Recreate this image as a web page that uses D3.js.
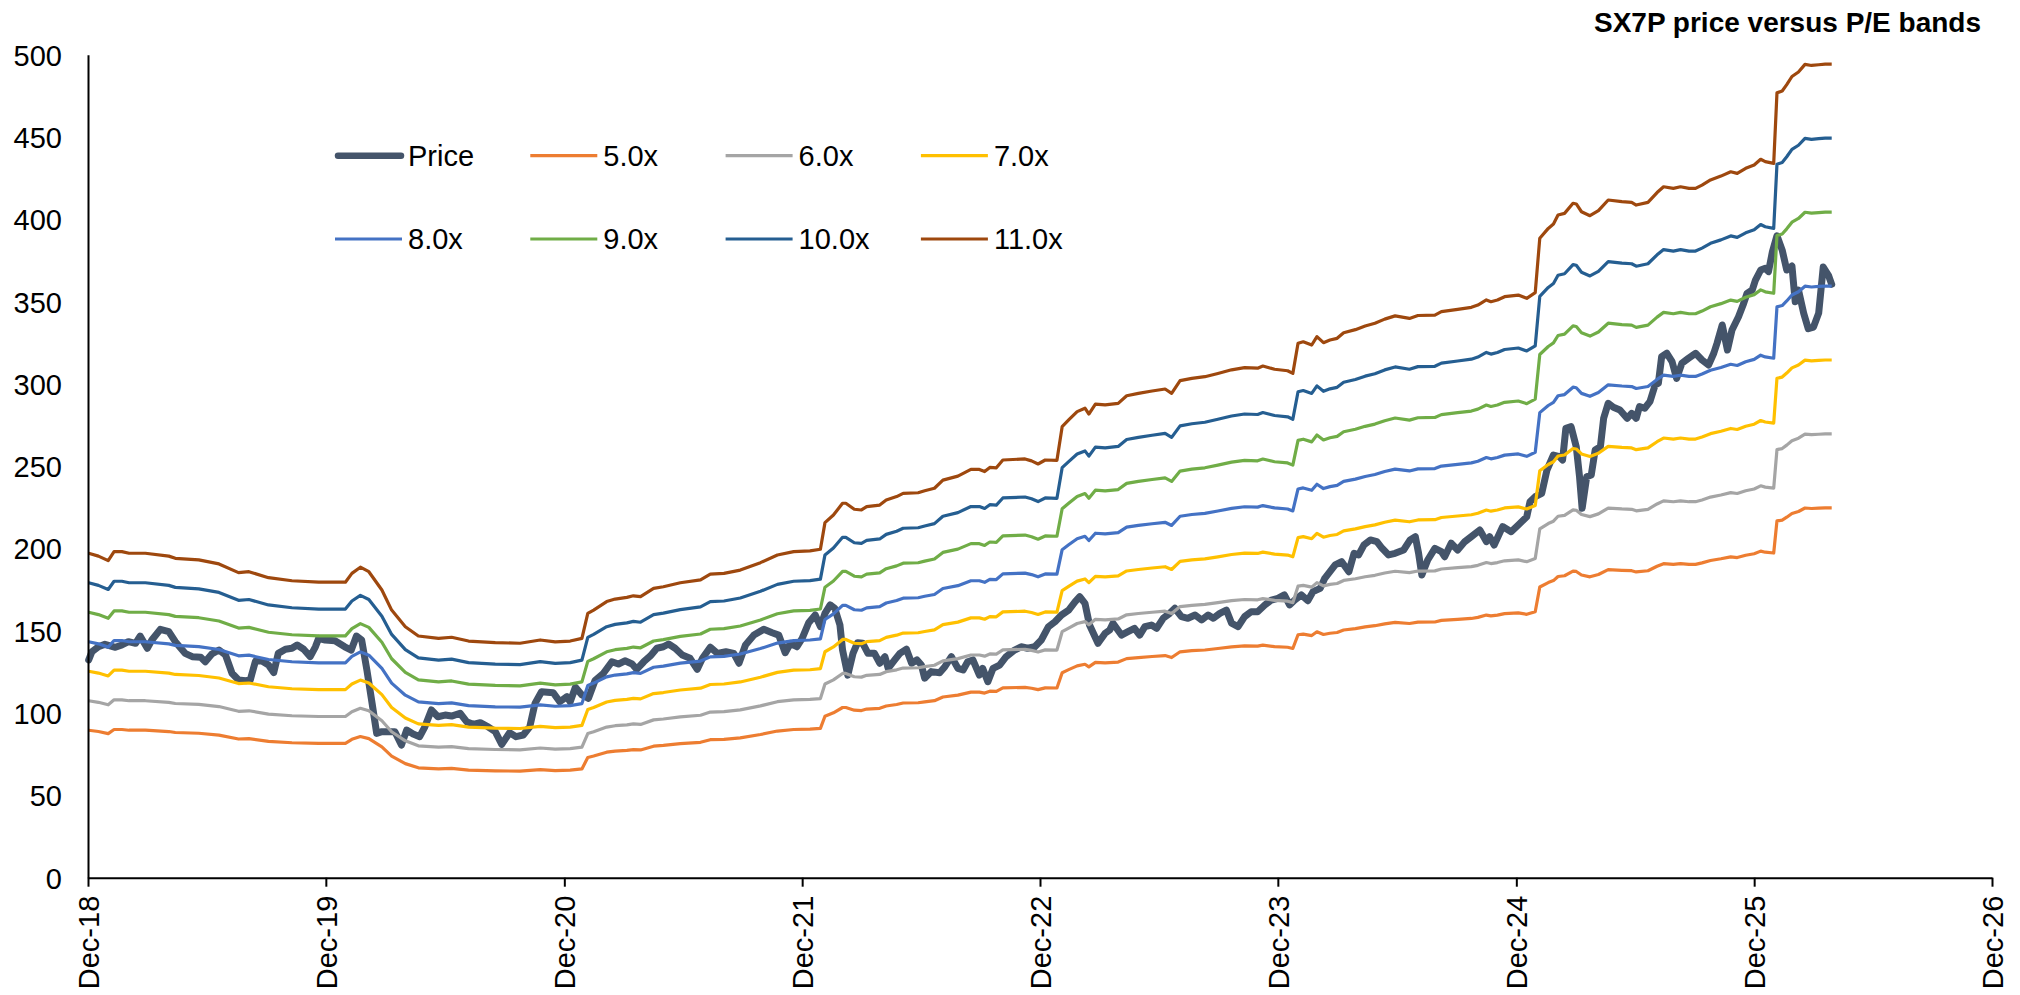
<!DOCTYPE html>
<html>
<head>
<meta charset="utf-8">
<script src="https://d3js.org/d3.v7.min.js"></script>
<style>
  body { margin: 0; background: #fff; }
  svg { display: block; font-family: Arial, "Liberation Sans", sans-serif; }
</style>
</head>
<body>
<svg id="chart" width="2020" height="995"></svg>
<script>
// ---- data ----
const title = "SX7P price versus P/E bands";
const seriesNames = ["Price", "5.0x", "6.0x", "7.0x", "8.0x", "9.0x", "10.0x", "11.0x"];
const multiples = [5, 6, 7, 8, 9, 10, 11];
const yTicks = [0, 50, 100, 150, 200, 250, 300, 350, 400, 450, 500];
const xTicks = ["2018-12-31", "2019-12-31", "2020-12-31", "2021-12-31", "2022-12-31",
                "2023-12-31", "2024-12-31", "2025-12-31", "2026-12-31"];

// weekly-ish closes of SX7P
const priceData = [
  ["2019-01-01",132.3],["2019-01-06",137.3],["2019-01-16",140.3],["2019-01-26",141.8],["2019-02-11",140.0],
  ["2019-02-21",141.4],["2019-03-03",143.4],["2019-03-14",142.4],["2019-03-21",146.8],["2019-04-01",139.4],
  ["2019-04-08",144.4],["2019-04-21",150.9],["2019-05-04",149.5],["2019-05-14",143.4],["2019-05-29",136.3],
  ["2019-06-09",134.3],["2019-06-22",133.9],["2019-06-29",131.2],["2019-07-09",135.9],["2019-07-20",138.3],
  ["2019-07-30",135.3],["2019-08-09",124.2],["2019-08-19",120.1],["2019-08-30",119.7],["2019-09-06",120.1],
  ["2019-09-14",131.6],["2019-09-24",131.6],["2019-10-04",129.2],["2019-10-12",124.6],["2019-10-19",136.3],
  ["2019-10-30",138.8],["2019-11-09",139.4],["2019-11-17",141.4],["2019-11-27",138.8],["2019-12-07",134.3],
  ["2019-12-15",140.3],["2019-12-20",145.4],["2019-12-30",144.4],["2020-01-14",144.0],["2020-01-29",140.3],
  ["2020-02-08",138.3],["2020-02-16",146.8],["2020-02-24",144.4],["2020-03-03",126.2],["2020-03-11",105.9],
  ["2020-03-18",87.7],["2020-03-26",88.7],["2020-04-05",88.7],["2020-04-15",88.7],["2020-04-25",80.6],
  ["2020-05-03",89.7],["2020-05-13",87.3],["2020-05-23",85.7],["2020-05-31",91.7],["2020-06-10",101.9],
  ["2020-06-20",97.8],["2020-07-01",98.8],["2020-07-11",98.2],["2020-07-24",99.9],["2020-08-03",94.8],
  ["2020-08-13",93.2],["2020-08-24",94.2],["2020-09-05",91.7],["2020-09-16",88.7],["2020-09-26",81.0],
  ["2020-10-08",88.1],["2020-10-18",85.7],["2020-10-29",86.7],["2020-11-08",91.7],["2020-11-16",105.9],
  ["2020-11-26",113.0],["2020-12-14",112.4],["2020-12-24",106.9],["2021-01-04",110.0],["2021-01-09",106.9],
  ["2021-01-17",115.7],["2021-01-27",111.0],["2021-02-06",109.0],["2021-02-16",119.7],["2021-03-01",124.2],
  ["2021-03-14",131.2],["2021-03-24",129.8],["2021-04-03",131.8],["2021-04-14",129.8],["2021-04-21",126.6],
  ["2021-05-02",131.2],["2021-05-12",134.7],["2021-05-22",139.4],["2021-06-01",140.3],["2021-06-09",142.0],
  ["2021-06-19",139.4],["2021-06-30",135.3],["2021-07-12",133.3],["2021-07-23",126.6],["2021-07-31",133.3],
  ["2021-08-12",140.0],["2021-08-23",136.3],["2021-09-05",137.3],["2021-09-17",136.3],["2021-09-25",130.3],
  ["2021-10-05",141.4],["2021-10-18",147.4],["2021-11-02",150.9],["2021-11-15",148.8],["2021-11-25",147.4],
  ["2021-12-05",136.7],["2021-12-13",142.4],["2021-12-23",140.3],["2021-12-31",145.4],["2022-01-10",154.9],
  ["2022-01-20",159.6],["2022-01-28",152.5],["2022-02-04",160.6],["2022-02-12",165.7],["2022-02-19",163.7],
  ["2022-02-27",153.5],["2022-03-03",138.3],["2022-03-11",123.1],["2022-03-19",136.3],["2022-03-26",142.8],
  ["2022-04-03",142.4],["2022-04-11",136.3],["2022-04-21",136.3],["2022-04-29",130.3],["2022-05-07",134.3],
  ["2022-05-12",127.2],["2022-05-22",132.3],["2022-05-30",136.3],["2022-06-09",138.8],["2022-06-17",130.3],
  ["2022-06-25",132.3],["2022-07-02",129.2],["2022-07-07",121.2],["2022-07-17",125.2],["2022-07-30",124.5],
  ["2022-08-07",128.2],["2022-08-17",134.3],["2022-08-27",127.2],["2022-09-04",126.2],["2022-09-11",131.2],
  ["2022-09-19",132.3],["2022-09-29",123.1],["2022-10-04",127.2],["2022-10-12",119.1],["2022-10-20",127.2],
  ["2022-10-30",129.2],["2022-11-09",134.3],["2022-11-22",138.3],["2022-12-02",140.3],["2022-12-12",139.4],
  ["2022-12-23",140.3],["2023-01-02",144.4],["2023-01-13",152.5],["2023-01-23",155.5],["2023-02-02",159.6],
  ["2023-02-13",162.6],["2023-02-23",167.7],["2023-03-02",170.7],["2023-03-10",166.7],["2023-03-17",153.5],
  ["2023-03-30",142.4],["2023-04-10",148.5],["2023-04-17",150.5],["2023-04-22",154.6],["2023-05-05",147.4],
  ["2023-05-15",149.5],["2023-05-25",151.5],["2023-06-02",147.4],["2023-06-10",152.5],["2023-06-20",153.5],
  ["2023-06-28",151.5],["2023-07-08",157.6],["2023-07-18",160.6],["2023-07-26",163.7],["2023-08-05",158.6],
  ["2023-08-15",157.6],["2023-08-26",159.6],["2023-09-05",156.6],["2023-09-15",159.6],["2023-09-23",157.6],
  ["2023-10-03",160.6],["2023-10-13",162.6],["2023-10-21",154.6],["2023-10-31",152.5],["2023-11-10",158.6],
  ["2023-11-20",161.6],["2023-11-30",161.6],["2023-12-11",165.7],["2023-12-21",168.7],["2023-12-31",169.7],
  ["2024-01-10",171.8],["2024-01-18",165.7],["2024-01-26",168.7],["2024-02-05",171.8],["2024-02-15",168.3],
  ["2024-02-23",173.8],["2024-03-05",175.8],["2024-03-12",181.9],["2024-03-28",190.0],["2024-04-07",192.0],
  ["2024-04-18",185.9],["2024-04-26",197.1],["2024-05-03",196.1],["2024-05-11",202.1],["2024-05-21",205.2],
  ["2024-05-31",204.2],["2024-06-08",200.1],["2024-06-18",196.1],["2024-06-28",197.1],["2024-07-11",199.1],
  ["2024-07-21",205.2],["2024-07-29",207.2],["2024-08-03",197.1],["2024-08-08",183.9],["2024-08-17",193.0],
  ["2024-08-28",200.1],["2024-09-07",198.1],["2024-09-12",195.0],["2024-09-22",203.2],["2024-10-02",199.1],
  ["2024-10-13",204.2],["2024-10-23",207.2],["2024-11-05",211.2],["2024-11-15",204.2],["2024-11-20",207.2],
  ["2024-11-27",202.1],["2024-12-10",213.3],["2024-12-23",210.2],["2025-01-03",214.3],["2025-01-16",219.3],
  ["2025-01-21",228.4],["2025-01-29",231.5],["2025-02-08",233.5],["2025-02-16",247.7],["2025-02-26",256.8],
  ["2025-03-07",255.8],["2025-03-12",253.8],["2025-03-17",273.0],["2025-03-25",274.0],["2025-04-02",261.8],
  ["2025-04-07",243.6],["2025-04-11",224.4],["2025-04-18",243.6],["2025-04-25",244.7],["2025-05-01",259.8],
  ["2025-05-09",261.8],["2025-05-14",279.1],["2025-05-21",288.2],["2025-05-29",285.8],["2025-06-08",284.1],
  ["2025-06-19",279.1],["2025-06-26",282.1],["2025-07-03",279.1],["2025-07-08",286.2],["2025-07-16",285.2],
  ["2025-07-24",289.2],["2025-08-01",299.3],["2025-08-06",300.4],["2025-08-11",316.5],["2025-08-19",318.6],
  ["2025-08-27",313.5],["2025-09-03",303.4],["2025-09-11",312.5],["2025-09-21",315.5],["2025-10-02",318.6],
  ["2025-10-12",314.5],["2025-10-22",311.5],["2025-10-30",318.6],["2025-11-04",324.7],["2025-11-12",335.8],
  ["2025-11-20",320.6],["2025-11-27",332.7],["2025-12-07",340.8],["2025-12-15",349.0],["2025-12-20",355.0],
  ["2025-12-28",357.0],["2026-01-02",363.1],["2026-01-10",369.2],["2026-01-17",370.2],["2026-01-22",368.2],
  ["2026-01-28",380.3],["2026-02-04",390.0],["2026-02-12",381.3],["2026-02-19",369.2],["2026-02-27",371.6],
  ["2026-03-04",349.9],["2026-03-09",357.0],["2026-03-17",342.9],["2026-03-24",333.5],["2026-04-01",334.5],
  ["2026-04-09",343.0],["2026-04-16",371.0],["2026-04-24",366.0],["2026-04-29",360.5]
];

// forward EPS behind the bands (band = multiple x EPS)
const epsData = [
  ["2019-01-01",17.92],["2019-01-16",17.76],["2019-01-31",17.51],["2019-02-09",18.01],["2019-02-21",18.01],
  ["2019-03-04",17.92],["2019-03-29",17.92],["2019-05-04",17.76],["2019-05-14",17.64],["2019-06-19",17.55],
  ["2019-07-20",17.33],["2019-08-19",16.85],["2019-09-04",16.90],["2019-10-04",16.57],["2019-11-09",16.40],
  ["2019-12-20",16.32],["2020-01-30",16.32],["2020-02-09",16.81],["2020-02-22",17.15],["2020-03-06",16.90],
  ["2020-03-26",15.89],["2020-04-10",14.78],["2020-05-01",13.86],["2020-05-21",13.35],["2020-06-21",13.22],
  ["2020-07-11",13.28],["2020-08-06",13.07],["2020-09-16",12.98],["2020-10-24",12.95],["2020-11-24",13.13],
  ["2020-12-17",13.02],["2021-01-09",13.07],["2021-01-27",13.22],["2021-02-05",14.60],["2021-02-14",14.78],
  ["2021-03-06",15.25],["2021-03-19",15.39],["2021-04-06",15.48],["2021-04-16",15.57],["2021-04-27",15.52],
  ["2021-05-17",15.98],["2021-06-01",16.07],["2021-06-27",16.29],["2021-07-28",16.45],["2021-08-12",16.77],
  ["2021-09-02",16.81],["2021-09-27",16.99],["2021-10-28",17.40],["2021-11-23",17.82],["2021-12-18",18.01],
  ["2022-01-12",18.05],["2022-01-28",18.14],["2022-02-04",19.61],["2022-02-17",20.03],["2022-03-03",20.68],
  ["2022-03-08",20.68],["2022-03-21",20.35],["2022-04-01",20.31],["2022-04-09",20.49],["2022-04-29",20.58],
  ["2022-05-09",20.86],["2022-05-25",21.05],["2022-06-04",21.23],["2022-06-27",21.26],["2022-07-07",21.37],
  ["2022-07-22",21.51],["2022-08-04",21.96],["2022-08-27",22.18],["2022-09-16",22.55],["2022-09-29",22.55],
  ["2022-10-07",22.43],["2022-10-15",22.66],["2022-10-25",22.64],["2022-11-04",23.07],["2022-12-08",23.13],
  ["2022-12-18",23.02],["2022-12-28",22.85],["2023-01-08",23.07],["2023-01-26",23.05],["2023-02-03",24.91],
  ["2023-02-13",25.28],["2023-02-26",25.74],["2023-03-10",25.93],["2023-03-16",25.61],["2023-03-26",26.16],
  ["2023-04-10",26.11],["2023-04-30",26.20],["2023-05-13",26.62],["2023-05-31",26.75],["2023-06-21",26.88],
  ["2023-07-11",26.99],["2023-07-21",26.75],["2023-08-03",27.45],["2023-08-21",27.58],["2023-09-10",27.67],
  ["2023-09-30",27.85],["2023-10-21",28.05],["2023-11-10",28.17],["2023-11-30",28.14],["2023-12-08",28.26],
  ["2023-12-26",28.08],["2024-01-15",28.00],["2024-01-23",27.85],["2024-01-31",29.52],["2024-02-08",29.60],
  ["2024-02-21",29.42],["2024-02-29",29.88],["2024-03-10",29.55],["2024-03-20",29.70],["2024-03-31",29.79],
  ["2024-04-10",30.10],["2024-04-28",30.27],["2024-05-13",30.47],["2024-05-28",30.62],["2024-06-12",30.85],
  ["2024-06-28",31.03],["2024-07-20",30.89],["2024-08-02",31.05],["2024-08-28",31.07],["2024-09-07",31.26],
  ["2024-10-02",31.39],["2024-10-23",31.50],["2024-11-02",31.63],["2024-11-15",31.91],["2024-11-22",31.81],
  ["2024-12-02",31.91],["2024-12-13",32.09],["2025-01-03",32.18],["2025-01-16",32.00],["2025-01-29",32.31],
  ["2025-02-05",35.32],["2025-02-18",35.86],["2025-02-26",36.10],["2025-03-05",36.60],["2025-03-15",36.69],
  ["2025-03-28",37.25],["2025-04-02",37.21],["2025-04-10",36.78],["2025-04-23",36.56],["2025-05-06",36.84],
  ["2025-05-21",37.43],["2025-06-11",37.34],["2025-06-26",37.30],["2025-07-03",37.15],["2025-07-21",37.30],
  ["2025-08-04",37.84],["2025-08-14",38.16],["2025-08-29",38.07],["2025-09-09",38.16],["2025-09-22",38.07],
  ["2025-10-02",38.07],["2025-10-12",38.25],["2025-10-25",38.54],["2025-11-10",38.75],["2025-11-25",38.99],
  ["2025-12-05",38.90],["2025-12-18",39.18],["2025-12-31",39.36],["2026-01-10",39.68],["2026-01-17",39.55],
  ["2026-01-30",39.45],["2026-02-04",43.35],["2026-02-12",43.45],["2026-02-19",43.80],["2026-02-27",44.25],
  ["2026-03-09",44.50],["2026-03-19",44.92],["2026-03-29",44.86],["2026-04-09",44.90],["2026-04-19",44.93],
  ["2026-04-29",44.93]
];

// ---- styling ----
const colors = ["#44546A", "#ED7D31", "#A5A5A5", "#FFC000", "#4472C4", "#70AD47", "#255E91", "#9E480E"];
const fontSize = 29;

const margin = {left: 88, right: 28, top: 54.7, bottom: 117.3};
const W = 2020, H = 995;
const parse = d3.timeParse("%Y-%m-%d");

const svg = d3.select("#chart");

const x = d3.scaleTime()
  .domain([parse(xTicks[0]), parse(xTicks[xTicks.length - 1])])
  .range([margin.left, W - margin.right]);
const y = d3.scaleLinear().domain([0, 500]).range([H - margin.bottom, margin.top]);

const line = d3.line().x(d => x(d.date)).y(d => y(d.value));

const price = priceData.map(d => ({date: parse(d[0]), value: d[1]}));
const bands = multiples.map(m => epsData.map(d => ({date: parse(d[0]), value: m * d[1]})));

// price first, bands drawn over it (series order of the original)
svg.append("path")
  .datum(price)
  .attr("fill", "none")
  .attr("stroke", colors[0])
  .attr("stroke-width", 7)
  .attr("stroke-linejoin", "round")
  .attr("stroke-linecap", "round")
  .attr("d", line);

bands.forEach((b, i) => {
  svg.append("path")
    .datum(b)
    .attr("fill", "none")
    .attr("stroke", colors[i + 1])
    .attr("stroke-width", 3.2)
    .attr("stroke-linejoin", "round")
    .attr("d", line);
});

// y axis
const yAxis = svg.append("g")
  .attr("transform", `translate(${margin.left},0)`)
  .call(d3.axisLeft(y).tickValues(yTicks).tickSize(0).tickSizeOuter(0).tickPadding(26));
yAxis.select(".domain").attr("stroke", "#000").attr("stroke-width", 2);
yAxis.selectAll("text")
  .attr("font-size", fontSize)
  .attr("font-family", "Arial, 'Liberation Sans', sans-serif")
  .attr("fill", "#000")
  .attr("dy", "0.36em");

// x axis
const xAxis = svg.append("g")
  .attr("transform", `translate(0,${H - margin.bottom})`)
  .call(d3.axisBottom(x)
    .tickValues(xTicks.map(parse))
    .tickFormat(d3.timeFormat("%b-%y"))
    .tickSize(9)
    .tickSizeOuter(0));
xAxis.select(".domain").attr("stroke", "#000").attr("stroke-width", 2);
xAxis.selectAll(".tick line").attr("stroke", "#000").attr("stroke-width", 2);
xAxis.selectAll("text")
  .attr("font-size", fontSize)
  .attr("font-family", "Arial, 'Liberation Sans', sans-serif")
  .attr("fill", "#000")
  .attr("transform", "rotate(-90)")
  .attr("text-anchor", "end")
  .attr("x", -18)
  .attr("y", 0)
  .attr("dy", "0.36em");

// legend, 4 per row
const legend = svg.append("g").attr("transform", "translate(335,155.7)");
seriesNames.forEach((name, i) => {
  const g = legend.append("g")
    .attr("transform", `translate(${(i % 4) * 195.3},${Math.floor(i / 4) * 83.3})`);
  g.append("line")
    .attr("x1", i === 0 ? 3 : 0).attr("x2", i === 0 ? 66 : 67)
    .attr("stroke", colors[i])
    .attr("stroke-width", i === 0 ? 6.5 : 3.2)
    .attr("stroke-linecap", i === 0 ? "round" : "butt");
  g.append("text")
    .attr("x", 73)
    .attr("dy", "0.36em")
    .attr("font-size", fontSize)
    .attr("fill", "#000")
    .text(name);
});

// title
svg.append("text")
  .attr("x", 1981)
  .attr("y", 32)
  .attr("text-anchor", "end")
  .attr("font-size", 28)
  .attr("font-weight", "bold")
  .attr("fill", "#000")
  .text(title);
</script>
</body>
</html>
